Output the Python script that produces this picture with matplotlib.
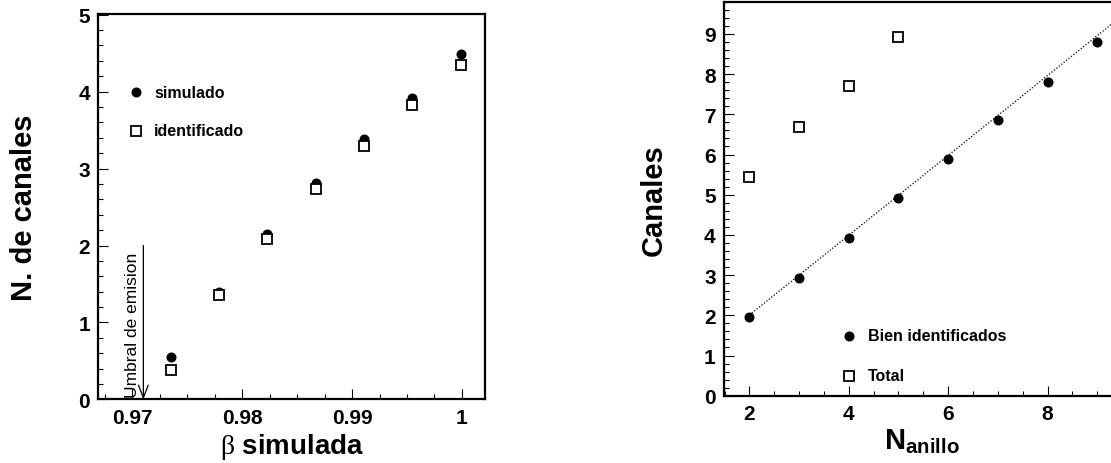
import numpy as np
import matplotlib.pyplot as plt
from matplotlib.ticker import MultipleLocator

plt.rcParams['font.family'] = ['Liberation Sans', 'DejaVu Sans']
plt.rcParams['font.weight'] = 'bold'
plt.rcParams['axes.labelweight'] = 'bold'
plt.rcParams['mathtext.fontset'] = 'custom'
plt.rcParams['mathtext.rm'] = 'Liberation Serif:normal'
plt.rcParams['mathtext.bf'] = 'Liberation Sans:bold'

# Left panel: channels vs simulated beta
beta = [0.9735, 0.9779, 0.9823, 0.9867, 0.9911, 0.9955, 0.9999]
n_simulado = [0.55, 1.39, 2.15, 2.81, 3.39, 3.92, 4.49]
n_identificado = [0.38, 1.36, 2.09, 2.73, 3.29, 3.82, 4.35]
beta_umbral = 0.9710
umbral_top = 2.0

# Right panel: channels vs number of rings
n_anillo = [2, 3, 4, 5, 6, 7, 8, 9]
bien_identificados = [1.95, 2.94, 3.92, 4.91, 5.88, 6.87, 7.80, 8.80]
n_anillo_total = [2, 3, 4, 5]
total = [5.43, 6.68, 7.70, 8.92]
fit_slope, fit_intercept = 0.993, 0.02

fig = plt.figure(figsize=(11.11, 4.64), dpi=100)
ax1 = fig.add_axes([0.0885, 0.137, 0.348, 0.831])
ax2 = fig.add_axes([0.6517, 0.145, 0.356, 0.849])

dot = dict(marker='o', ls='none', color='black', markersize=6.2)
box = dict(marker='s', ls='none', mfc='white', mec='black', mew=1.3, markersize=7.2)


def style_axes(ax):
    for s in ax.spines.values():
        s.set_linewidth(1.6)
    ax.tick_params(which='both', direction='in', width=0.8, labelsize=15, pad=6)
    ax.tick_params(which='major', length=7)
    ax.tick_params(which='minor', length=3.5)
    for lbl in ax.get_xticklabels() + ax.get_yticklabels():
        lbl.set_fontweight('bold')


# --- left panel ---
ax1.plot(beta, n_simulado, **dot)
ax1.plot(beta, n_identificado, **box)
ax1.set_xlim(0.9669, 1.0021)
ax1.set_ylim(0, 5.01)
ax1.xaxis.set_major_locator(MultipleLocator(0.01))
ax1.xaxis.set_minor_locator(MultipleLocator(0.0025))
ax1.yaxis.set_major_locator(MultipleLocator(1))
ax1.yaxis.set_minor_locator(MultipleLocator(0.2))
ax1.set_xticks([0.97, 0.98, 0.99, 1.0])
ax1.set_xticklabels(['0.97', '0.98', '0.99', '1'])
style_axes(ax1)

ax1.annotate('', xy=(beta_umbral, 0), xytext=(beta_umbral, umbral_top),
             arrowprops=dict(arrowstyle='->,head_length=0.9,head_width=0.35',
                             lw=0.9, color='black', shrinkA=0, shrinkB=0))
ax1.text(beta_umbral - 0.0010, 0.03, 'Umbral de emision', rotation=90,
         ha='center', va='bottom', fontsize=12.5, fontweight='normal', zorder=5)

ax1.plot([0.9703], [3.99], **dot)
ax1.text(0.9720, 3.99, 'simulado', fontsize=11.5, va='center')
ax1.plot([0.9703], [3.49], **box)
ax1.text(0.9720, 3.49, 'identificado', fontsize=11.5, va='center')

ax1.set_ylabel('N. de canales', fontsize=21, fontweight='bold', labelpad=29)
ax1.set_xlabel(r'$\mathrm{\beta}$ simulada', fontsize=20, fontweight='bold', labelpad=3)

# --- right panel ---
x_fit = np.array([n_anillo[0], 9.6])
ax2.plot(x_fit, fit_slope * x_fit + fit_intercept, color='black', lw=0.9, ls=(0, (1, 1.5)))
ax2.plot(n_anillo, bien_identificados, **dot)
ax2.plot(n_anillo_total, total, **box)
ax2.set_xlim(1.49, 9.45)
ax2.set_ylim(0, 9.8)
ax2.xaxis.set_major_locator(MultipleLocator(2))
ax2.xaxis.set_minor_locator(MultipleLocator(0.5))
ax2.yaxis.set_major_locator(MultipleLocator(1))
ax2.yaxis.set_minor_locator(MultipleLocator(0.2))
style_axes(ax2)

ax2.plot([4.0], [1.49], **dot)
ax2.text(4.38, 1.49, 'Bien identificados', fontsize=11.5, va='center')
ax2.plot([4.0], [0.50], **box)
ax2.text(4.38, 0.50, 'Total', fontsize=11.5, va='center')

ax2.set_ylabel('Canales', fontsize=21, fontweight='bold', labelpad=26)
ax2.set_xlabel(r'$\mathbf{N_{anillo}}$', fontsize=21, labelpad=2)

fig.savefig('out.png', dpi=100)
